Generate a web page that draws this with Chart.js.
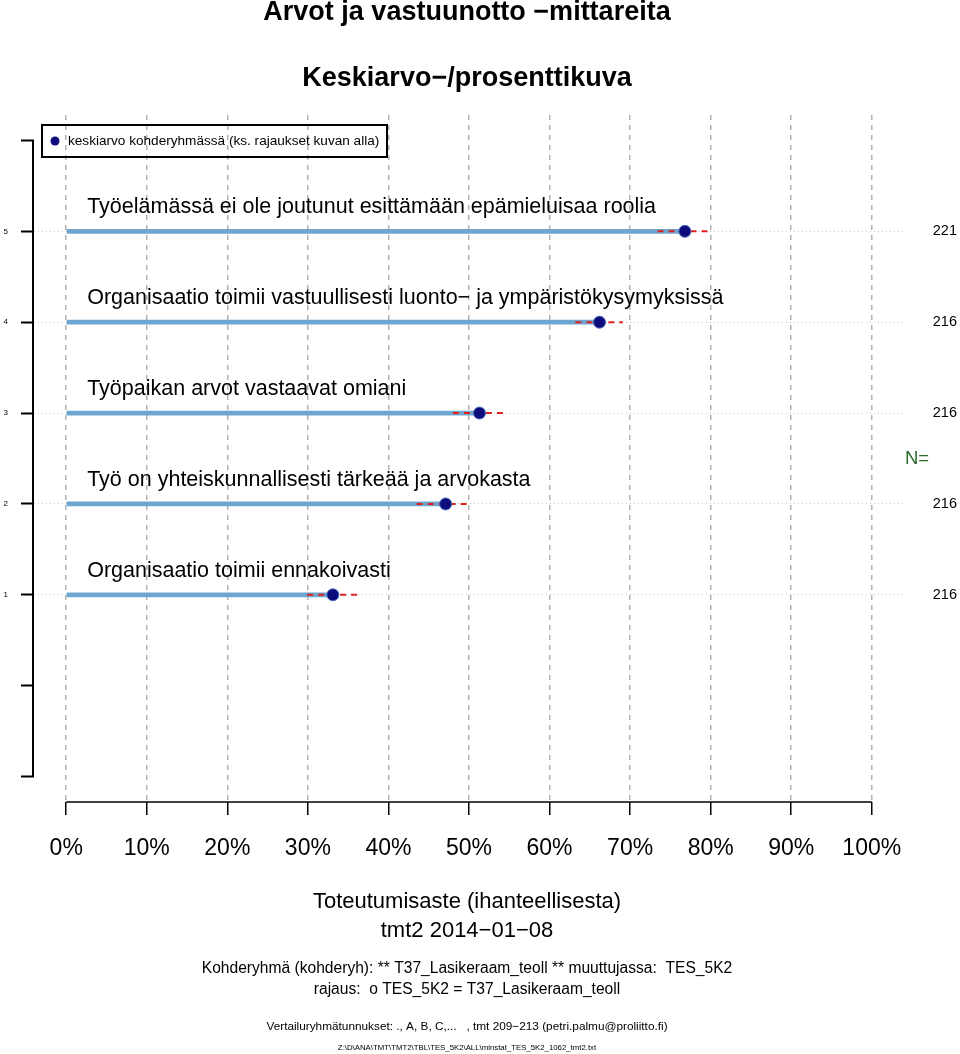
<!DOCTYPE html>
<html>
<head>
<meta charset="utf-8">
<script src="https://cdn.jsdelivr.net/npm/chart.js@4"></script>
<style>
  html, body { margin: 0; padding: 0; background: #fff; }
  #wrap { width: 960px; height: 1054px; position: relative; }
</style>
</head>
<body>
<div id="wrap"><canvas id="chart" width="960" height="1054"></canvas></div>
<script>
// --- Datos (rivit alhaalta ylös) ---
const rows = [1, 2, 3, 4, 5];
const questions = [
    'Organisaatio toimii ennakoivasti',
    'Työ on yhteiskunnallisesti tärkeää ja arvokasta',
    'Työpaikan arvot vastaavat omiani',
    'Organisaatio toimii vastuullisesti luonto− ja ympäristökysymyksissä',
    'Työelämässä ei ole joutunut esittämään epämieluisaa roolia'
];
const means = [33.1, 47.1, 51.3, 66.2, 76.8];
const ciLow = [29.9, 43.5, 48.0, 63.2, 73.4];
const ciHigh = [36.3, 50.1, 54.5, 69.1, 80.1];
const counts = [216, 216, 216, 216, 221];

const xTicks = [0, 10, 20, 30, 40, 50, 60, 70, 80, 90, 100];
const yTicks = [-1, 0, 1, 2, 3, 4, 5, 6];

const titleText = 'Arvot ja vastuunotto −mittareita';
const subtitleText = 'Keskiarvo−/prosenttikuva';
const legendLabel = 'keskiarvo kohderyhmässä (ks. rajaukset kuvan alla)';
const nLabel = 'N=';
const xTitle = 'Toteutumisaste (ihanteellisesta)';
const dateText = 'tmt2 2014−01−08';
const footer1 = 'Kohderyhmä (kohderyh): ** T37_Lasikeraam_teoll ** muuttujassa:  TES_5K2';
const footer2 = 'rajaus:  o TES_5K2 = T37_Lasikeraam_teoll';
const footer3 = 'Vertailuryhmätunnukset: ., A, B, C,...   , tmt 209−213 (petri.palmu@proliitto.fi)';
const footer4 = 'Z:\\D\\ANA\\TMT\\TMT2\\TBL\\TES_5K2\\ALL\\minstat_TES_5K2_1062_tmt2.txt';

const FONT = '"Liberation Sans", Arial, Helvetica, sans-serif';
const NAVY = '#0c0c7c';

// luottamusvälit yhdeksi katkotuksi viivaksi (NaN katkaisee)
const ciData = [];
rows.forEach((r, i) => {
    ciData.push({ x: ciLow[i], y: r });
    ciData.push({ x: ciHigh[i], y: r });
    ciData.push({ x: ciHigh[i], y: NaN });
});

// tekstit, akselit ja selite
const decorations = {
    id: 'decorations',
    afterDatasetsDraw(chart) {
        const ctx = chart.ctx;
        const xs = chart.scales.x, ys = chart.scales.y;
        const area = chart.chartArea;
        const cx = 467;
        ctx.save();
        ctx.fillStyle = '#000';
        ctx.textBaseline = 'middle';

        // akseliviivat
        ctx.strokeStyle = '#000';
        ctx.lineWidth = 2;
        ctx.beginPath();
        ctx.moveTo(area.left - 1, ys.getPixelForValue(6));
        ctx.lineTo(area.left - 1, ys.getPixelForValue(-1));
        ctx.stroke();
        ctx.lineWidth = 1.5;
        ctx.beginPath();
        ctx.moveTo(xs.getPixelForValue(0), area.bottom);
        ctx.lineTo(xs.getPixelForValue(100), area.bottom);
        ctx.stroke();

        // kysymysten tekstit
        ctx.textAlign = 'left';
        ctx.font = '21.5px ' + FONT;
        rows.forEach((r, i) => {
            ctx.fillText(questions[i], xs.getPixelForValue(2.6), ys.getPixelForValue(r) - 24);
        });

        // N-arvot
        ctx.textAlign = 'right';
        ctx.font = '14.5px ' + FONT;
        rows.forEach((r, i) => {
            ctx.fillText(String(counts[i]), 957, ys.getPixelForValue(r));
        });
        ctx.textAlign = 'center';
        ctx.fillStyle = '#2b6b2b';
        ctx.font = '18.5px ' + FONT;
        ctx.fillText(nLabel, 917, ys.getPixelForValue(2.5));

        // selite
        ctx.fillStyle = '#000';
        ctx.lineWidth = 2;
        ctx.strokeRect(42, 125, 345, 32);
        ctx.fillStyle = NAVY;
        ctx.beginPath();
        ctx.arc(55, 141, 4.5, 0, Math.PI * 2);
        ctx.fill();
        ctx.fillStyle = '#000';
        ctx.textAlign = 'left';
        ctx.font = '13.6px ' + FONT;
        ctx.fillText(legendLabel, 68, 141);

        // otsikot
        ctx.textAlign = 'center';
        ctx.font = 'bold 27px ' + FONT;
        ctx.fillText(titleText, cx, 13);
        ctx.fillText(subtitleText, cx, 79);

        // alaosan tekstit
        ctx.font = '22px ' + FONT;
        ctx.fillText(xTitle, cx, 902);
        ctx.fillText(dateText, cx, 931);
        ctx.font = '15.6px ' + FONT;
        ctx.fillText(footer1, cx, 969);
        ctx.fillText(footer2, cx, 990);
        ctx.font = '11.8px ' + FONT;
        ctx.fillText(footer3, cx, 1027);
        ctx.font = '7.8px ' + FONT;
        ctx.fillText(footer4, cx, 1048);
        ctx.restore();
    }
};

new Chart(document.getElementById('chart'), {
    type: 'scatter',
    data: {
        datasets: [
            {
                type: 'scatter',
                data: rows.map((r, i) => ({ x: means[i], y: r })),
                pointRadius: 6,
                backgroundColor: NAVY,
                borderColor: '#4a6ab8',
                borderWidth: 1,
                order: 1
            },
            {
                type: 'line',
                data: ciData,
                borderColor: '#e02020',
                borderWidth: 2,
                borderDash: [6, 5],
                pointRadius: 0,
                spanGaps: false,
                fill: false,
                order: 2
            },
            {
                type: 'bar',
                indexAxis: 'y',
                data: rows.map((r, i) => ({ x: [0, means[i]], y: r })),
                backgroundColor: '#6fa6cf',
                barThickness: 4,
                order: 3
            }
        ]
    },
    options: {
        responsive: false,
        animation: false,
        events: [],
        layout: { padding: { top: 115, right: 56, bottom: 0, left: 0 } },
        plugins: { legend: { display: false }, tooltip: { enabled: false } },
        scales: {
            x: {
                type: 'linear',
                min: -4,
                max: 104,
                offset: false,
                afterBuildTicks: s => { s.ticks = xTicks.map(v => ({ value: v })); },
                afterFit: s => { s.height = 252; },
                ticks: {
                    callback: v => v + '%',
                    color: '#000',
                    font: { family: FONT, size: 23 },
                    padding: 20,
                    maxRotation: 0,
                    autoSkip: false
                },
                grid: {
                    offset: false,
                    color: '#b2b2b2',
                    lineWidth: 1.5,
                    tickColor: '#000',
                    tickLength: 13,
                    tickWidth: 1.5,
                    tickBorderDash: []
                },
                border: { display: false, dash: [5, 5] }
            },
            y: {
                type: 'linear',
                min: -1.28,
                max: 6.28,
                offset: false,
                afterBuildTicks: s => { s.ticks = yTicks.map(v => ({ value: v })); },
                afterFit: s => { s.width = 34; },
                ticks: {
                    callback: v => (v >= 1 && v <= 5) ? String(v) : '',
                    color: '#000',
                    font: { family: FONT, size: 8 },
                    padding: 13,
                    autoSkip: false
                },
                grid: {
                    offset: false,
                    color: c => (c.tick && c.tick.value >= 1 && c.tick.value <= 5) ? '#c4c4c4' : 'rgba(0,0,0,0)',
                    lineWidth: 1,
                    tickColor: '#000',
                    tickLength: 13,
                    tickWidth: 2,
                    tickBorderDash: []
                },
                border: { display: false, dash: [1, 3] }
            }
        }
    },
    plugins: [decorations]
});
</script>
</body>
</html>
